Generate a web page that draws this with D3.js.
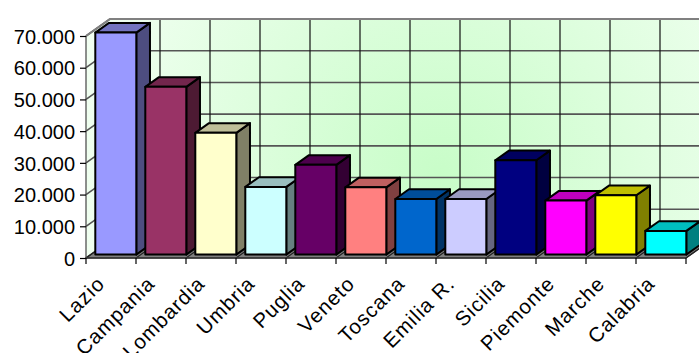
<!DOCTYPE html>
<html><head><meta charset="utf-8">
<script src="https://cdn.jsdelivr.net/npm/d3@7/dist/d3.min.js"></script>
<style>body{margin:0;background:#fff}svg{display:block}</style>
</head><body>
<svg id="c" width="699" height="353"></svg>
<script>
const categories = ["Lazio","Campania","Lombardia","Umbria","Puglia","Veneto","Toscana","Emilia R.","Sicilia","Piemonte","Marche","Calabria"];
const values = [70000, 52900, 38400, 21350, 28300, 21200, 17550, 17550, 29750, 17030, 18700, 7470];
const colors = ["#9999ff","#993366","#ffffcc","#ccffff","#660066","#ff8080","#0066cc","#ccccff","#000080","#ff00ff","#ffff00","#00ffff"];
const yTicks = [0,10000,20000,30000,40000,50000,60000,70000];

const svg = d3.select("#c");
const X0 = 86, X1 = 686, Y0 = 258, Y1 = 36;
const DX = 24, DY = -17;             // full depth of floor / wall
const bf = 0.2, bd = 0.57;           // bar front plane, bar depth fraction

const x = d3.scaleBand().domain(categories).range([X0, X1]).paddingInner(0.18).paddingOuter(0.09);
const y = d3.scaleLinear().domain([0, 70000]).range([Y0, Y1]);
const step = x.step();
const bound = c => x(c) - step * x.paddingOuter();  // left boundary of slot

const it = d3.formatLocale({decimal: ",", thousands: ".", grouping: [3], currency: ["€", ""]});
const fmt = it.format(",");

const defs = svg.append("defs");
const rg = defs.append("radialGradient").attr("id", "bg").attr("gradientUnits", "userSpaceOnUse")
  .attr("cx", 440).attr("cy", 175).attr("r", 380);
rg.append("stop").attr("offset", 0).attr("stop-color", "#c8fdc8");
rg.append("stop").attr("offset", 1).attr("stop-color", "#f2fff2");

const pts = a => a.map(p => p.join(",")).join(" ");
// walls
svg.append("polygon").attr("points", pts([[X0, Y0], [X0, Y1], [X0 + DX, Y1 + DY], [X0 + DX, Y0 + DY]]))
  .attr("fill", "url(#bg)");
svg.append("polygon").attr("points", pts([[X0 + DX, Y0 + DY], [X0 + DX, Y1 + DY], [X1 + DX, Y1 + DY], [X1 + DX, Y0 + DY]]))
  .attr("fill", "url(#bg)");

// back wall horizontal gridlines and left wall diagonals
yTicks.forEach(v => {
  const yy = y(v);
  svg.append("line").attr("x1", X0 + DX).attr("x2", X1 + DX).attr("y1", yy + DY).attr("y2", yy + DY)
    .attr("stroke", "#555").attr("stroke-width", 1.6);
  svg.append("line").attr("x1", X0).attr("x2", X0 + DX).attr("y1", yy).attr("y2", yy + DY)
    .attr("stroke", "#555").attr("stroke-width", 1.6);
});
// vertical gridlines on back wall
categories.forEach((c, i) => {
  const bx = bound(c) + step + DX;
  svg.append("line").attr("x1", bx).attr("x2", bx).attr("y1", Y1 + DY).attr("y2", Y0 + DY)
    .attr("stroke", "#111").attr("stroke-width", 1.2);
});
// top borders
svg.append("polyline").attr("points", pts([[X0, Y1], [X0 + DX, Y1 + DY], [X1 + DX, Y1 + DY]]))
  .attr("fill", "none").attr("stroke", "#808080").attr("stroke-width", 2);

// floor
svg.append("polygon").attr("points", pts([[X0, Y0], [X1, Y0], [X1 + DX, Y0 + DY], [X0 + DX, Y0 + DY]]))
  .attr("fill", "#808080").attr("stroke", "#333").attr("stroke-width", 1.2);
categories.concat(["_end"]).forEach((c, i) => {
  const fx = X0 + i * step;
  svg.append("line").attr("x1", fx).attr("x2", fx + DX).attr("y1", Y0).attr("y2", Y0 + DY)
    .attr("stroke", "#222").attr("stroke-width", 1.2);
});

// bars
const shade = (col, k) => { const c = d3.rgb(col); return d3.rgb(c.r * k, c.g * k, c.b * k).toString(); };
const ox = DX * bf, oy = DY * bf, bx = DX * bd, by = DY * bd;
const bars = svg.append("g");
categories.forEach((c, i) => {
  const l = x(c) + ox, r = x(c) + x.bandwidth() + ox;
  const t = y(values[i]) + oy, b = y(0) + oy;
  const g = bars.append("g").attr("stroke", "#000").attr("stroke-width", 2).attr("stroke-linejoin", "round");
  g.append("polygon").attr("points", pts([[r, b], [r, t], [r + bx, t + by], [r + bx, b + by]])).attr("fill", shade(colors[i], 0.5));
  g.append("polygon").attr("points", pts([[l, t], [r, t], [r + bx, t + by], [l + bx, t + by]])).attr("fill", shade(colors[i], 0.75));
  g.append("rect").attr("x", l).attr("y", t).attr("width", r - l).attr("height", b - t).attr("fill", colors[i]);
});

// front floor edge line
svg.append("line").attr("x1", X0).attr("x2", X1).attr("y1", Y0).attr("y2", Y0).attr("stroke", "#333").attr("stroke-width", 1.5);
// left axis line
svg.append("line").attr("x1", X0).attr("x2", X0).attr("y1", Y1).attr("y2", Y0).attr("stroke", "#444").attr("stroke-width", 1.2);

// y axis
const ya = svg.append("g").attr("transform", `translate(${X0},0)`)
  .call(d3.axisLeft(y).tickValues(yTicks).tickFormat(fmt).tickSize(6).tickPadding(5));
ya.select(".domain").remove();
ya.selectAll(".tick line").attr("stroke", "#000").attr("stroke-width", 1.2);
ya.selectAll(".tick text").attr("font-family", "Liberation Sans, Arial, sans-serif").attr("font-size", 20).attr("fill", "#000").attr("dy", "0.36em");

// category ticks
categories.concat(["_end"]).forEach((c, i) => {
  const fx = X0 + i * step;
  svg.append("line").attr("x1", fx).attr("x2", fx).attr("y1", Y0).attr("y2", Y0 + 6).attr("stroke", "#000").attr("stroke-width", 1.2);
});
// category labels
categories.forEach((c, i) => {
  const cx = x(c) + x.bandwidth() / 2;
  svg.append("text").attr("transform", `translate(${cx - 5},${Y0 + 27}) rotate(-45)`)
    .attr("text-anchor", "end").attr("font-family", "Liberation Sans, Arial, sans-serif")
    .attr("font-size", 20.5).attr("letter-spacing", 1).attr("fill", "#000").text(c);
});
</script>
</body></html>
